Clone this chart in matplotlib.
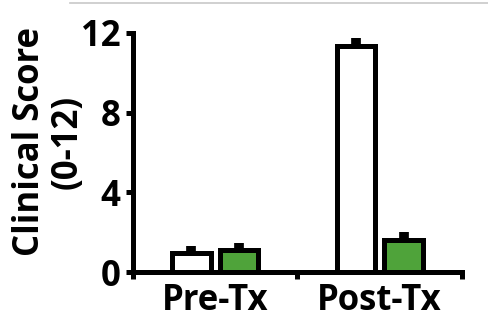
import matplotlib
matplotlib.use("Agg")
import matplotlib.pyplot as plt
from matplotlib.lines import Line2D
import numpy as np

groups = ["Pre-Tx", "Post-Tx"]
control_means = [0.95, 11.35]
control_err = [0.35, 0.4]
treated_means = [1.1, 1.6]
treated_err = [0.35, 0.4]

plt.rcParams['font.family'] = ['Open Sans', 'DejaVu Sans']
plt.rcParams['font.weight'] = 'bold'

fig = plt.figure(figsize=(4.88, 3.26), dpi=100)
ax = fig.add_axes([0.2725, 0.1656, 0.6742, 0.7332])

x = np.arange(len(groups))
width = 0.235
offset = 0.145
lw = 3.6
fs = 25

for xs, means, errs, color in [(x - offset, control_means, control_err, "white"),
                               (x + offset, treated_means, treated_err, "#4fa33a")]:
    ax.errorbar(xs, means, yerr=[np.zeros(len(errs)), errs], fmt="none",
                ecolor="black", elinewidth=7, capsize=0, zorder=1)
    ax.bar(xs, means, width=width, color=color, edgecolor="black",
           linewidth=lw, zorder=2)

ax.set_xlim(-0.5, 1.5)
ax.set_ylim(0, 12)
ax.set_yticks([0, 4, 8, 12])
ax.set_xticks(x)
ax.set_xticklabels(groups, fontsize=fs, fontweight='bold')
ax.set_xticks([-0.5, 0.5, 1.5], minor=True)
ax.tick_params(axis='x', which='major', length=0, pad=8)
ax.tick_params(axis='x', which='minor', length=5, width=lw, direction='out')
ax.tick_params(axis='y', length=5, width=lw, labelsize=fs, pad=4)
for lab in ax.get_yticklabels():
    lab.set_fontweight('bold')

for side in ["top", "right"]:
    ax.spines[side].set_visible(False)
for side in ["left", "bottom"]:
    ax.spines[side].set_linewidth(lw)

fig.text(0.10, 0.565, "Clinical Score\n(0-12)", rotation=90, ha='center',
         va='center', fontsize=fs, fontweight='bold', linespacing=1.05,
         multialignment='center')

fig.add_artist(Line2D([0.143, 1.0], [0.99, 0.99], color="#c8c8c8", lw=1.2))

fig.savefig("out.png", dpi=100)
